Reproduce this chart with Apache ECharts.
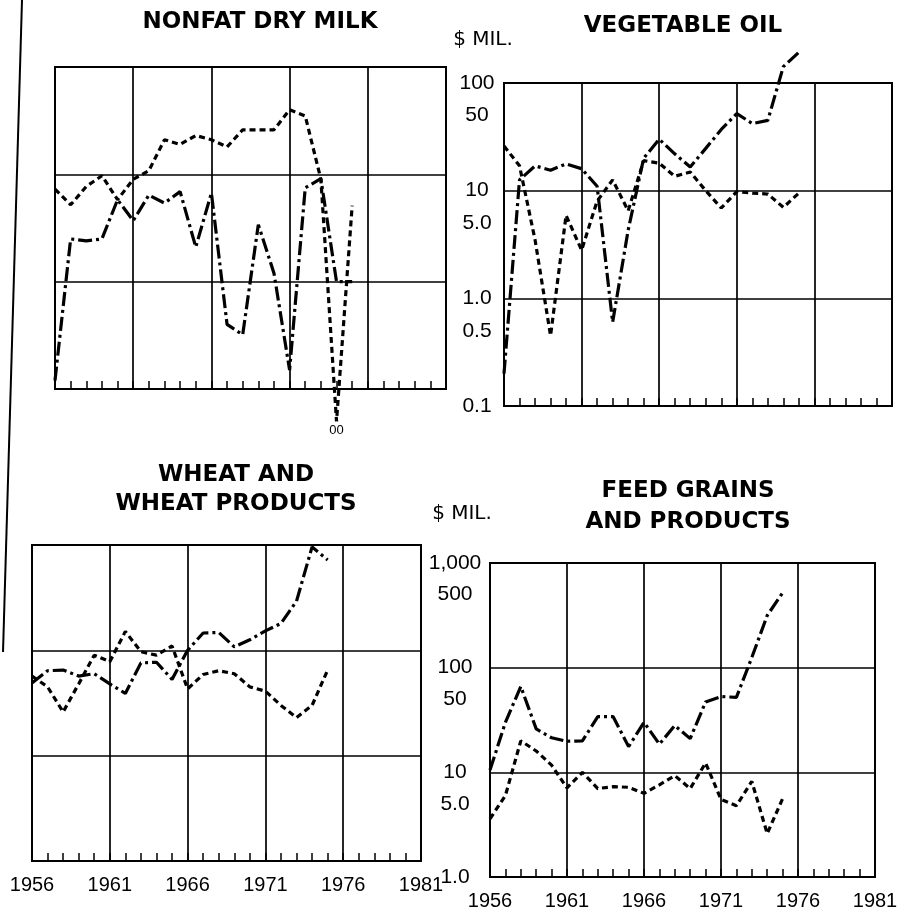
<!DOCTYPE html>
<html>
<head>
<meta charset="utf-8">
<title>Farm product trade, $ mil.</title>
<script src="https://cdn.jsdelivr.net/npm/echarts@6.0.0/dist/echarts.min.js"></script>
<style>
  html, body { margin: 0; padding: 0; background: #fff; }
  #main { width: 899px; height: 920px; }
</style>
</head>
<body>
<div id="main"></div>
<script>
var BASE_YEAR = 1956;
var years = [1956, 1957, 1958, 1959, 1960, 1961, 1962, 1963, 1964, 1965,
             1966, 1967, 1968, 1969, 1970, 1971, 1972, 1973, 1974, 1975];

// $ mil.
var milkDashDot = [0.12, 2.5, 2.4, 2.5, 5.8, 3.7, 6.4, 5.4, 6.9, 2.1, 6.7, 0.40, 0.32, 3.4, 1.2, 0.15, 7.5, 9.1, 1.0, 1.0];
var milkDash    = [7.3, 5.2, 7.7, 9.7, 5.8, 9.0, 10.8, 21, 19, 23, 21, 18, 26, 26, 26, 40, 35, 9.0, 0, 5.1];

var vegDashDot  = [0.2, 12.6, 17, 15.5, 17.7, 16, 11, 0.6, 4.3, 20, 30, 22, 16.6, 24.7, 37, 52, 42, 45, 142, 193];
var vegDash     = [26, 17, 3.5, 0.45, 5.9, 2.8, 8.0, 12.6, 6.5, 19, 18, 13.6, 14.9, 10, 6.9, 9.8, 9.5, 9.3, 7.0, 9.5];

var wheatDashDot = [49, 64, 65, 57, 60, 48, 39, 76, 77, 53, 100, 146, 148, 108, 126, 153, 180, 293, 960, 720];
var wheatDash    = [57, 45, 26, 48, 90, 78, 151, 97, 90, 110, 43, 59, 64, 60, 45, 41, 30, 23, 30, 65];

var feedDashDot = [10.5, 30, 66, 26, 21.4, 19.8, 20, 34, 34, 17.6, 30, 18.6, 28, 21, 47, 53, 52, 125, 315, 520];
var feedDash    = [3.6, 6.0, 20, 16, 11.7, 7.1, 10, 7.0, 7.3, 7.2, 6.3, 7.6, 9.3, 7.0, 12.3, 5.5, 4.8, 8.2, 2.6, 5.6];

var topTicks = [0.1, 0.5, 1, 5, 10, 50, 100];
var topTickLabels = ['0.1', '0.5', '1.0', '5.0', '10', '50', '100'];
var bottomTicks = [1, 5, 10, 50, 100, 500, 1000];
var bottomTickLabels = ['1.0', '5.0', '10', '50', '100', '500', '1,000'];

// a zero can't sit on a log scale: the chart drops it below the floor and marks it "00"
var ZERO_AT = 0.05;

var DASH_DOT = [14, 4, 3, 4];
var DASH = [6, 4];

function tickLabel(v, ticks, labels) {
    var best = 0;
    for (var i = 1; i < ticks.length; i++) {
        if (Math.abs(Math.log(ticks[i] / v)) < Math.abs(Math.log(ticks[best] / v))) best = i;
    }
    return labels[best];
}

function makeSeries(values, dash, gridIndex) {
    var data = [];
    for (var i = 0; i < years.length; i++) {
        var x = years[i] - BASE_YEAR;
        if (values[i] === 0) {
            data.push({
                value: [x, ZERO_AT],
                symbol: 'circle', symbolSize: 1,
                label: { show: true, formatter: '00', position: 'bottom', distance: 2,
                         fontSize: 13, color: '#000', fontFamily: 'Liberation Sans' }
            });
        } else {
            data.push([x, values[i]]);
        }
    }
    return {
        type: 'line',
        xAxisIndex: gridIndex,
        yAxisIndex: gridIndex,
        data: data,
        symbol: 'none',
        clip: false,
        silent: true,
        lineStyle: { color: '#000', width: 3.2, type: dash, cap: 'butt' }
    };
}

function makeXAxis(gridIndex, withLabels, margin) {
    return {
        gridIndex: gridIndex,
        type: 'value',
        min: 0, max: 25, interval: 5,
        axisLine: { show: true, lineStyle: { color: '#000', width: 2 } },
        axisTick: { show: true, inside: true, length: 8, lineStyle: { color: '#000', width: 1.5 } },
        minorTick: { show: true, splitNumber: 5, length: 8, lineStyle: { color: '#000', width: 1.5 } },
        splitLine: { show: true, lineStyle: { color: '#000', width: 1.7 } },
        axisLabel: {
            show: withLabels, margin: margin, color: '#000', fontSize: 20,
            fontFamily: 'Liberation Sans',
            formatter: function (v) { return String(BASE_YEAR + v); }
        }
    };
}

function makeYAxis(gridIndex, min, max, ticks, labels, withLabels, margin) {
    return {
        gridIndex: gridIndex,
        type: 'log', logBase: 10,
        min: min, max: max,
        axisLine: { show: true, lineStyle: { color: '#000', width: 2 } },
        axisTick: { show: false },
        splitLine: { show: true, lineStyle: { color: '#000', width: 1.7 } },
        axisLabel: {
            show: withLabels, customValues: ticks, align: 'center', margin: margin,
            color: '#000', fontSize: 21, fontFamily: 'Liberation Sans',
            formatter: function (v) { return tickLabel(v, ticks, labels); }
        }
    };
}

var titleFont = { fontFamily: 'DejaVu Sans', fontWeight: 'bold', fontSize: 23, color: '#000' };
var unitFont = { fontFamily: 'DejaVu Sans', fontWeight: 'normal', fontSize: 20, color: '#000' };

function titleAt(text, x, y, style, lineHeight) {
    var ts = Object.assign({}, style);
    if (lineHeight) ts.lineHeight = lineHeight;
    return { text: text, left: x, top: y, textAlign: 'center', textVerticalAlign: 'top',
             padding: 0, textStyle: ts };
}

var chart = echarts.init(document.getElementById('main'), null, { renderer: 'canvas' });

var option = {
    animation: false,
    backgroundColor: '#fff',
    title: [
        titleAt('NONFAT DRY MILK', 260, 11, titleFont),
        titleAt('VEGETABLE OIL', 683, 15, titleFont),
        titleAt('WHEAT AND\nWHEAT PRODUCTS', 236, 461, titleFont, 29),
        titleAt('FEED GRAINS\nAND PRODUCTS', 688, 476, titleFont, 31),
        titleAt('$ MIL.', 483, 30, unitFont),
        titleAt('$ MIL.', 462, 504, unitFont)
    ],
    grid: [
        { left: 55, top: 67, width: 391, height: 322 },
        { left: 504, top: 83, width: 388, height: 323 },
        { left: 32, top: 545, width: 389, height: 316 },
        { left: 490, top: 563, width: 385, height: 314 }
    ].map(function (g) {
        return Object.assign(g, { show: true, borderColor: '#000', borderWidth: 2,
                                  containLabel: false, outerBoundsMode: 'none' });
    }),
    xAxis: [
        makeXAxis(0, false, 0),
        makeXAxis(1, false, 0),
        makeXAxis(2, true, 14),
        makeXAxis(3, true, 14)
    ],
    yAxis: [
        makeYAxis(0, 0.1, 100, topTicks, topTickLabels, false, 0),
        makeYAxis(1, 0.1, 100, topTicks, topTickLabels, true, 27),
        makeYAxis(2, 1, 1000, bottomTicks, bottomTickLabels, false, 0),
        makeYAxis(3, 1, 1000, bottomTicks, bottomTickLabels, true, 35)
    ],
    graphic: [
        { type: 'line', shape: { x1: 22, y1: 0, x2: 3, y2: 652 },
          style: { stroke: '#000', lineWidth: 2 }, silent: true }
    ],
    series: [
        makeSeries(milkDashDot, DASH_DOT, 0),
        makeSeries(milkDash, DASH, 0),
        makeSeries(vegDashDot, DASH_DOT, 1),
        makeSeries(vegDash, DASH, 1),
        makeSeries(wheatDashDot, DASH_DOT, 2),
        makeSeries(wheatDash, DASH, 2),
        makeSeries(feedDashDot, DASH_DOT, 3),
        makeSeries(feedDash, DASH, 3)
    ]
};

chart.setOption(option);
</script>
</body>
</html>
